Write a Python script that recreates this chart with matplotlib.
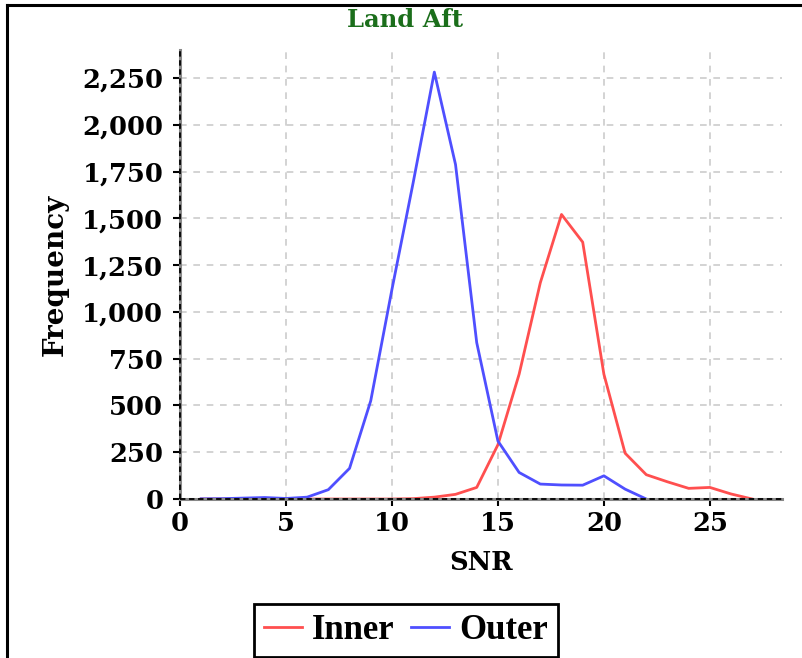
import matplotlib
matplotlib.use("Agg")
import matplotlib.pyplot as plt
from matplotlib.lines import Line2D
from matplotlib.ticker import FuncFormatter

# SNR bins and counts
snrInner = list(range(1, 28))
inner = [0, 0, 0, 0, 0, 0, 0, 0, 0, 0, 2, 10, 25, 62, 290, 667, 1156, 1521,
         1373, 667, 245, 130, 92, 57, 62, 27, 0]
snrOuter = list(range(1, 23))
outer = [1, 2, 5, 8, 3, 10, 50, 164, 525, 1120, 1690, 2282, 1788, 836, 310,
         142, 80, 75, 74, 124, 53, 0]
xTicks = [0, 5, 10, 15, 20, 25]
yTicks = [0, 250, 500, 750, 1000, 1250, 1500, 1750, 2000, 2250]

plt.rcParams["font.family"] = "DejaVu Serif"
plt.rcParams["font.weight"] = "bold"

fig = plt.figure(figsize=(8.02, 6.58), dpi=100)
ax = fig.add_axes([0.2244, 0.2416, 0.7506, 0.6824])

ax.plot(snrInner, inner, color="#ff4f4f", lw=2.0, label="Inner")
ax.plot(snrOuter, outer, color="#4f4fff", lw=2.0, label="Outer")

ax.set_xlim(0, 28.4)
ax.set_ylim(0, 2400)
ax.set_xticks(xTicks)
ax.set_yticks(yTicks)
ax.yaxis.set_major_formatter(FuncFormatter(lambda v, p: f"{int(v):,}"))
ax.tick_params(labelsize=18.5, length=5, width=1.5, color="black")
ax.tick_params(axis="y", pad=7)
for lbl in ax.get_xticklabels() + ax.get_yticklabels():
    lbl.set_fontweight("bold")
ax.grid(True, color="#cccccc", ls=(0, (4, 4)), lw=1.2)
ax.set_axisbelow(True)

for s in ["top", "right"]:
    ax.spines[s].set_visible(False)
# the axis lines look like a grey bar with a black dash over it
for s in ["left", "bottom"]:
    ax.spines[s].set_color("#888888")
    ax.spines[s].set_linewidth(2.2)
ax.axhline(0, color="black", ls=(0, (3, 2)), lw=1.3, clip_on=False, zorder=5)
ax.axvline(0, color="black", ls=(0, (3, 2)), lw=1.3, clip_on=False, zorder=5)

ax.set_xlabel("SNR", fontsize=18.5, fontweight="bold", labelpad=10)
ax.set_ylabel("Frequency", fontsize=20, fontweight="bold", labelpad=10)

fig.text(0.505, 0.969, "Land Aft", ha="center", va="center", fontsize=17.5,
         fontweight="bold", color="#1b6e1b")

leg = fig.legend(loc="center", bbox_to_anchor=(0.506, 0.042), ncol=2,
                 frameon=True, fancybox=False, framealpha=1,
                 handlelength=1.1, columnspacing=0.45, handletextpad=0.3,
                 borderpad=0.28, borderaxespad=0,
                 prop={"family": "Liberation Serif", "weight": "bold", "size": 25})
leg.get_frame().set_edgecolor("black")
leg.get_frame().set_linewidth(2)

# outer frame: only top and left edges show in the picture
fig.add_artist(Line2D([0.009, 0.009], [0, 0.992], transform=fig.transFigure,
                      color="black", lw=2.2))
fig.add_artist(Line2D([0.009, 1.0], [0.992, 0.992], transform=fig.transFigure,
                      color="black", lw=2.2))

fig.savefig("out.png", dpi=100)
